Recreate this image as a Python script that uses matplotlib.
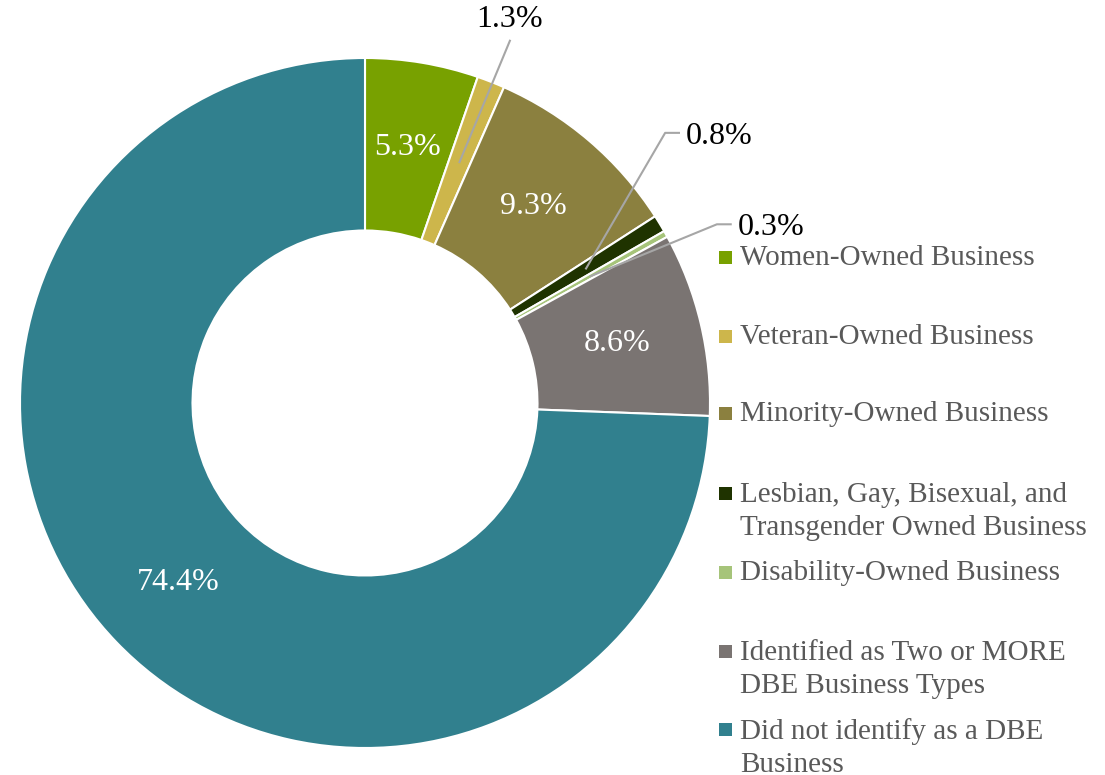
import matplotlib.pyplot as plt
from matplotlib.patches import Rectangle
import numpy as np

CATEGORIES = [
    'Women-Owned Business',
    'Veteran-Owned Business',
    'Minority-Owned Business',
    'Lesbian, Gay, Bisexual, and\nTransgender Owned Business',
    'Disability-Owned Business',
    'Identified as Two or MORE\nDBE Business Types',
    'Did not identify as a DBE\nBusiness',
]
SHARES = [5.3, 1.3, 9.3, 0.8, 0.3, 8.6, 74.4]
COLOURS = ['#78A100', '#CDB64B', '#8B803F', '#1F3300', '#A6C47A', '#7A7472', '#31808E']

FONT = 'Liberation Serif'
LABEL_SIZE = 23
LEGEND_SIZE = 21
LEADER_COLOUR = '#A6A6A6'

# outside labels: index -> (elbow point, text point, horizontal alignment)
OUTSIDE = {
    1: ((0.42, 1.05), (0.42, 1.05), 'center'),
    3: ((0.87, 0.783), (0.91, 0.783), 'left'),
    4: ((1.02, 0.518), (1.06, 0.518), 'left'),
}

# legend rows: y of the first line centre, in pixels from the top
LEGEND_Y = [258, 337, 414, 494, 573, 652, 730]

W, H = 1105, 775
fig = plt.figure(figsize=(W / 100, H / 100), dpi=100)
ax = fig.add_axes([20 / W, (H - 748) / H, 690 / W, 690 / H])

wedges, _ = ax.pie(SHARES, colors=COLOURS, startangle=90, counterclock=False,
                   radius=1.0, wedgeprops=dict(width=0.5, edgecolor='white', linewidth=1.5))
ax.set_xlim(-1, 1)
ax.set_ylim(-1, 1)
ax.set_aspect('equal')
ax.axis('off')

for i, w in enumerate(wedges):
    mid = np.deg2rad((w.theta1 + w.theta2) / 2)
    x, y = 0.75 * np.cos(mid), 0.75 * np.sin(mid)
    txt = f'{SHARES[i]:.1f}%'
    if i in OUTSIDE:
        elbow, tpos, ha = OUTSIDE[i]
        ax.plot([x, elbow[0], tpos[0]], [y, elbow[1], tpos[1]],
                color=LEADER_COLOUR, lw=1.5, clip_on=False)
        if ha == 'center':
            ax.text(tpos[0], tpos[1] + 0.02, txt, ha='center', va='bottom',
                    fontsize=LABEL_SIZE, family=FONT, color='black')
        else:
            ax.text(tpos[0] + 0.02, tpos[1] - 0.01, txt, ha='left', va='center',
                    fontsize=LABEL_SIZE, family=FONT, color='black')
    else:
        ax.text(x, y, txt, ha='center', va='center',
                fontsize=LABEL_SIZE, family=FONT, color='white')

# legend drawn by hand to follow the original row spacing
for label, colour, ypx in zip(CATEGORIES, COLOURS, LEGEND_Y):
    fig.patches.append(Rectangle((719 / W, (H - ypx - 6) / H), 13 / W, 13 / H,
                                 transform=fig.transFigure, facecolor=colour,
                                 edgecolor='none'))
    if '\n' in label:
        fig.text(740 / W, (H - ypx + 12) / H, label, ha='left', va='top',
                 fontsize=LEGEND_SIZE, family=FONT, color='#595959', linespacing=1.36)
    else:
        fig.text(740 / W, (H - ypx) / H, label, ha='left', va='center',
                 fontsize=LEGEND_SIZE, family=FONT, color='#595959')

fig.savefig('out.png', dpi=100)
